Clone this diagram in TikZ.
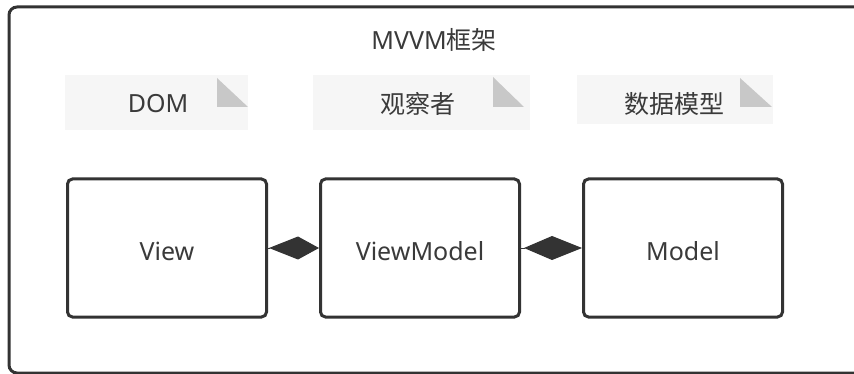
\documentclass[tikz,border=0pt]{standalone}
\usepackage{fontspec}
\setmainfont{Noto Sans}
\newfontfamily\cjk{Noto Sans CJK SC}
\usetikzlibrary{arrows.meta}
\definecolor{ink}{HTML}{333333}
\definecolor{txt}{HTML}{3A3A3A}
\definecolor{notebg}{HTML}{F6F6F6}
\definecolor{fold}{HTML}{C8C8C8}
\tikzset{
  px/.style={x=1pt,y=-1pt},
  frame/.style={draw=ink,line width=3pt,rounded corners=8pt},
  unit/.style={draw=ink,line width=3pt,rounded corners=5pt,minimum width=199pt,minimum height=138pt,
    font=\fontsize{25}{30}\selectfont,text=txt,text depth=0pt,text height=24pt},
  label/.style={font=\fontsize{25}{30}\selectfont,text=txt,inner sep=0pt},
  notebox/.style={fill=notebg,draw=none},
  foldtri/.style={fill=fold,draw=none},
  link/.style={draw=ink,fill=ink,line width=1pt}
}
\begin{document}
\begin{tikzpicture}[px]
\useasboundingbox (0,0) rectangle (854,374);
\clip (0,0) rectangle (854,374);
% outer container, partly cut off at right and bottom
\draw[frame] (9,7) rectangle (880,373);
\node[label] (title) at (434,40) {MVVM{\cjk 框架}};

% note tags above the three parts
\fill[notebox] (65,75) rectangle (248,130);
\fill[foldtri] (217,78) -- (217,107) -- (248,107) -- cycle;
\node[label] (domtag) at (158,104) {DOM};

\fill[notebox] (313,75) rectangle (530,130);
\fill[foldtri] (493,77) -- (493,107) -- (524,107) -- cycle;
\node[label] (obstag) at (418,104) {\cjk 观察者};

\fill[notebox] (577,75) rectangle (773,124);
\fill[foldtri] (740,78) -- (740,107) -- (772,107) -- cycle;
\node[label] (datatag) at (674,104) {\cjk 数据模型};

% the three parts
\node[unit] (view) at (167,248) {View};
\node[unit] (vm) at (420,248) {ViewModel};
\node[unit] (model) at (683,248) {Model};

% two-way links
\draw[link,-{Kite[length=50pt,width=23pt,inset=29pt]}] (view.east) -- (vm.west);
\draw[link,-{Kite[length=58pt,width=24pt,inset=28pt]}] (vm.east) -- (model.west);
\end{tikzpicture}
\end{document}
